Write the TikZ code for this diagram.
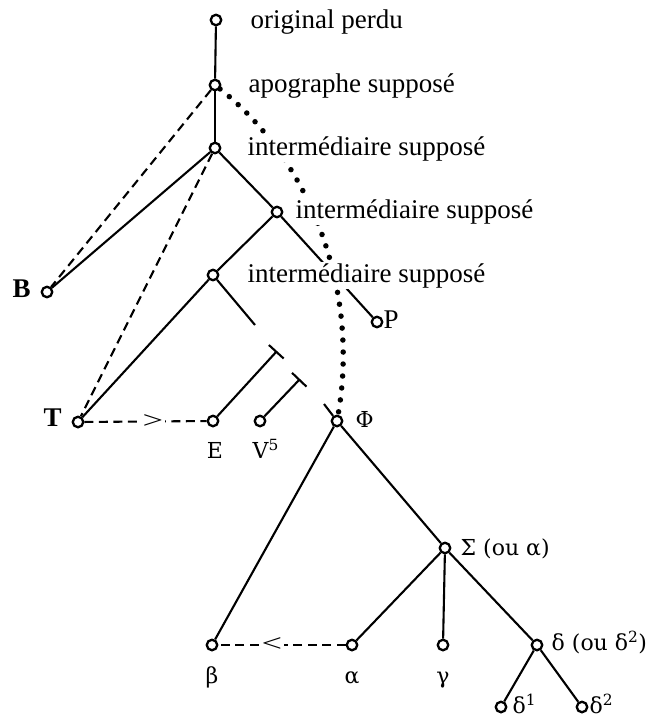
\documentclass[tikz,border=0pt]{standalone}
\usepackage{fontspec}
\setmainfont{Liberation Serif}
\newfontfamily\grkfont{DejaVu Serif}
\usetikzlibrary{arrows.meta}
\newcommand{\lblfont}{\fontsize{27}{30}\selectfont}
\newcommand{\grklblfont}{\grkfont\fontsize{22}{26}\selectfont}
\begin{document}
\begin{tikzpicture}[x=1pt,y=-1pt,
  ms/.style={circle,draw,line width=2.3pt,inner sep=0pt,minimum size=10.5pt},
  edge/.style={line width=2.1pt},
  dashedge/.style={line width=2.1pt,dash pattern=on 9pt off 5.5pt},
  dotedge/.style={line width=5.5pt,line cap=round,dash pattern=on 0pt off 12pt},
  lbl/.style={font=\lblfont,inner sep=1.5pt},
  lblw/.style={lbl,fill=white},
  glbl/.style={font=\grklblfont,inner sep=1.5pt},
  barend/.style={line width=2.1pt,-{Bar[width=20pt]}},
  chev/.style={fill=white,inner sep=2pt,font=\lblfont}
]
\useasboundingbox (0,0) rectangle (653,726);
% manuscript nodes
\node[ms] (orig) at (216,20) {};
\node[ms] (apog) at (215,85) {};
\node[ms] (int1) at (215,148) {};
\node[ms] (int2) at (277,212) {};
\node[ms] (int3) at (213,275) {};
\node[ms] (B) at (47,292) {};
\node[ms] (P) at (377,322) {};
\node[ms] (T) at (78,422) {};
\node[ms] (E) at (213,421) {};
\node[ms] (V) at (260,421) {};
\node[ms] (phi) at (337,421) {};
\node[ms] (sig) at (445,548) {};
\node[ms] (beta) at (212,645) {};
\node[ms] (alpha) at (352,645) {};
\node[ms] (gamma) at (443,645) {};
\node[ms] (delta) at (537,645) {};
\node[ms] (d1) at (501,707) {};
\node[ms] (d2) at (582,707) {};
% free ends and control points
\coordinate (stub3) at (255,325);
\coordinate (ebar) at (277,351);
\coordinate (vbar) at (300,379);
\coordinate (phistub) at (324,404);
\coordinate (c1) at (310,160);
\coordinate (c2) at (360,290);
% dotted curve
\draw[dotedge] (apog) .. controls (c1) and (c2) .. (phi);
% dashed
\draw[dashedge] (apog) -- (B);
\draw[dashedge] (int1) -- (T);
\draw[dashedge] (T) -- node[chev,pos=0.56] (gt) {\scalebox{1.35}[0.9]{>}} (E);
\draw[dashedge] (alpha) -- node[chev,pos=0.58] (lt) {\scalebox{1.35}[0.9]{<}} (beta);
% solid
\draw[edge] (orig) -- (apog);
\draw[edge] (apog) -- (int1);
\draw[edge] (int1) -- (B);
\draw[edge] (int1) -- (int2);
\draw[edge] (int2) -- (int3);
\draw[edge] (int2) -- (P);
\draw[edge] (int3) -- (T);
\draw[edge] (int3) -- (stub3);
\draw[barend] (E) -- (ebar);
\draw[barend] (V) -- (vbar);
\draw[edge] (phi) -- (phistub);
\draw[edge] (phi) -- (beta);
\draw[edge] (phi) -- (sig);
\draw[edge] (sig) -- (alpha);
\draw[edge] (sig) -- (gamma);
\draw[edge] (sig) -- (delta);
\draw[edge] (delta) -- (d1);
\draw[edge] (delta) -- (d2);
% labels
\node[lblw,anchor=base west] (tOrig) at (249,28) {original perdu};
\node[lblw,anchor=base west] (tApog) at (247,92) {apographe supposé};
\node[lblw,anchor=base west] (tInt1) at (246,155) {intermédiaire supposé};
\node[lblw,anchor=base west] (tInt2) at (294,218) {intermédiaire supposé};
\node[lblw,anchor=base west] (tInt3) at (246,282) {intermédiaire supposé};
\node[lbl,anchor=base west] (tB) at (11,297) {\textbf{B}};
\node[lbl,anchor=base west] (tP) at (382,328) {P};
\node[lbl,anchor=base west] (tT) at (42,426) {\textbf{T}};
\node[glbl,anchor=base] (tE) at (215,458) {E};
\node[glbl,anchor=base west] (tV) at (251,458) {V\textsuperscript{5}};
\node[glbl,anchor=base west] (tPhi) at (354,427) {Φ};
\node[glbl,anchor=base west] (tSig) at (459,555) {Σ (ou α)};
\node[glbl,anchor=base] (tBeta) at (212,683) {β};
\node[glbl,anchor=base] (tAlpha) at (352,683) {α};
\node[glbl,anchor=base] (tGamma) at (443,683) {γ};
\node[glbl,anchor=base west] (tDelta) at (550,650) {δ (ou δ\textsuperscript{2})};
\node[glbl,anchor=base west] (tD1) at (511,713) {δ\textsuperscript{1}};
\node[glbl,anchor=base west] (tD2) at (588,713) {δ\textsuperscript{2}};
\end{tikzpicture}
\end{document}
